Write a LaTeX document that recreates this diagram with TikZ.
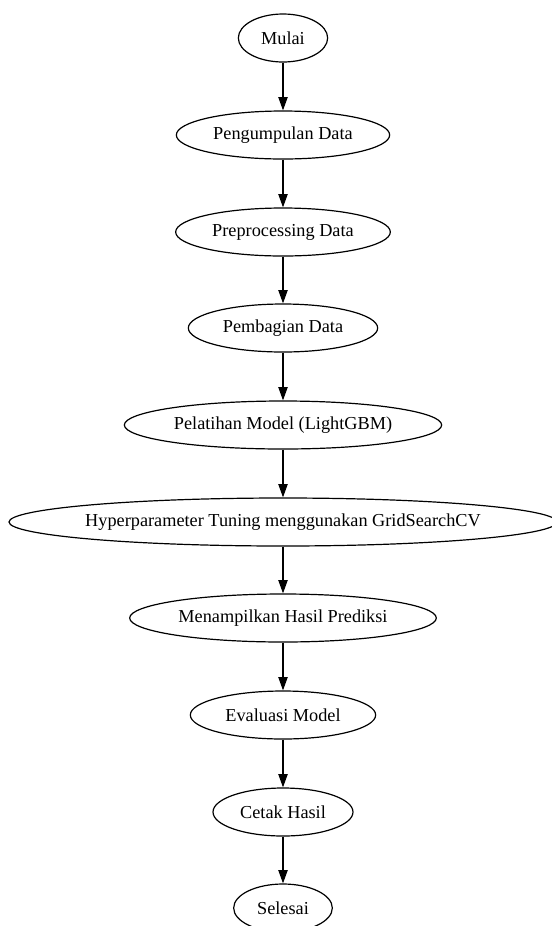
\documentclass[tikz,border=0pt]{standalone}
\usepackage{fontspec}
\setmainfont{Liberation Serif}
\usetikzlibrary{shapes.geometric,arrows.meta}

\begin{document}
\begin{tikzpicture}[x=0.75pt,y=-0.75pt,
  proses/.style={ellipse,draw,line width=0.9pt,inner sep=0pt,minimum height=36pt,
    font=\fontsize{13.7}{16}\selectfont},
  >={Triangle[length=10pt,width=7pt]}]
\useasboundingbox (0,0) rectangle (552,926);
%Knoten fuer die Schritte
\node[proses,minimum width=67pt]  (mulai)    at (283,38)  {Mulai};
\node[proses,minimum width=160pt] (kumpul)   at (283,135) {Pengumpulan Data};
\node[proses,minimum width=161pt] (prepro)   at (283,232) {Preprocessing Data};
\node[proses,minimum width=142pt] (bagi)     at (283,328) {Pembagian Data};
\node[proses,minimum width=238pt] (latih)    at (283,425) {Pelatihan Model (LightGBM)};
\node[proses,minimum width=400pt,inner xsep=-3pt] (tuning) at (283,522) {Hyperparameter Tuning menggunakan GridSearchCV};
\node[proses,minimum width=230pt] (tampil)   at (283,618) {Menampilkan Hasil Prediksi};
\node[proses,minimum width=139pt] (evaluasi) at (283,715) {Evaluasi Model};
\node[proses,minimum width=105pt] (cetak)    at (283,812) {Cetak Hasil};
\node[proses,minimum width=74pt]  (selesai)  at (283,908) {Selesai};

\path [->,line width=0.9pt]
(mulai) edge (kumpul)
(kumpul) edge (prepro)
(prepro) edge (bagi)
(bagi) edge (latih)
(latih) edge (tuning)
(tuning) edge (tampil)
(tampil) edge (evaluasi)
(evaluasi) edge (cetak)
(cetak) edge (selesai)
;
\end{tikzpicture}
\end{document}
